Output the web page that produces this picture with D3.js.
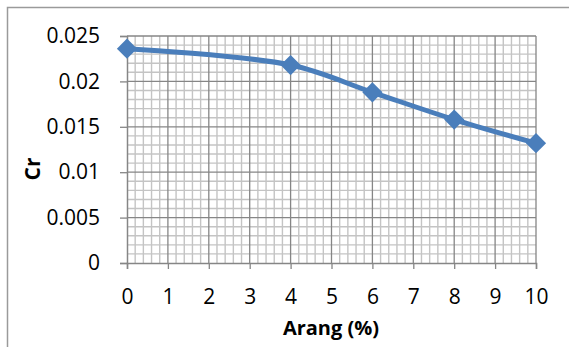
<!DOCTYPE html>
<html>
<head>
<meta charset="utf-8">
<script src="https://cdn.jsdelivr.net/npm/d3@7"></script>
<style>
  body { margin: 0; background: #fff; }
  text { font-family: "Open Sans", "Liberation Sans", sans-serif; fill: #000; }
</style>
</head>
<body>
<div id="chart"></div>
<script>
// Data
const arang = [0, 4, 6, 8, 10];
const crValues = [0.0236, 0.0218, 0.0188, 0.0158, 0.0132];
const xTicks = [0, 1, 2, 3, 4, 5, 6, 7, 8, 9, 10];
const yTicks = [0, 0.005, 0.01, 0.015, 0.02, 0.025];
const yTickLabels = ["0", "0.005", "0.01", "0.015", "0.02", "0.025"];

const width = 569, height = 347;
const plot = { left: 127, right: 536, top: 36, bottom: 263 };

const svg = d3.select("#chart").append("svg")
  .attr("width", width)
  .attr("height", height);

// Outer chart border
svg.append("rect")
  .attr("x", 7.5).attr("y", 7.5)
  .attr("width", width).attr("height", height)
  .attr("fill", "none")
  .attr("stroke", "#9a9a9a")
  .attr("stroke-width", 1.5);

const x = d3.scaleLinear().domain([0, 10]).range([plot.left, plot.right]);
const y = d3.scaleLinear().domain([0, 0.025]).range([plot.bottom, plot.top]);

// Minor gridlines
const g = svg.append("g");
g.selectAll(".minor-x")
  .data(d3.range(0, 50).filter(i => i % 5 !== 0).map(i => i / 5))
  .enter().append("line")
  .attr("x1", d => x(d)).attr("x2", d => x(d))
  .attr("y1", plot.top).attr("y2", plot.bottom)
  .attr("stroke", "#c4c4c4").attr("stroke-width", 1.4);
g.selectAll(".minor-y")
  .data(d3.range(0, 25).filter(i => i % 5 !== 0).map(i => i / 1000))
  .enter().append("line")
  .attr("x1", plot.left).attr("x2", plot.right)
  .attr("y1", d => y(d)).attr("y2", d => y(d))
  .attr("stroke", "#c4c4c4").attr("stroke-width", 1.4);

// Major gridlines
g.selectAll(".major-x")
  .data(xTicks.slice(1))
  .enter().append("line")
  .attr("x1", d => x(d)).attr("x2", d => x(d))
  .attr("y1", plot.top).attr("y2", plot.bottom)
  .attr("stroke", "#868686").attr("stroke-width", 1.3);
g.selectAll(".major-y")
  .data(yTicks.slice(1))
  .enter().append("line")
  .attr("x1", plot.left).attr("x2", plot.right)
  .attr("y1", d => y(d)).attr("y2", d => y(d))
  .attr("stroke", "#868686").attr("stroke-width", 1.3);

// Axes
const xAxis = svg.append("g")
  .attr("transform", `translate(0,${plot.bottom})`)
  .call(d3.axisBottom(x).tickValues(xTicks).tickSize(6).tickPadding(20).tickFormat(d3.format("d")));
const yAxis = svg.append("g")
  .attr("transform", `translate(${plot.left},0)`)
  .call(d3.axisLeft(y).tickValues(yTicks).tickSize(7).tickPadding(20)
    .tickFormat((d, i) => yTickLabels[i]));

[xAxis, yAxis].forEach(a => {
  a.select(".domain").attr("stroke", "#868686").attr("stroke-width", 1.5);
  a.selectAll(".tick line").attr("stroke", "#868686").attr("stroke-width", 1.3);
  a.selectAll(".tick text")
    .style("font-family", "'Open Sans', 'Liberation Sans', sans-serif")
    .style("font-size", "21px")
    .attr("fill", "#000");
});

// Axis titles
svg.append("text")
  .attr("x", 331).attr("y", 335)
  .attr("text-anchor", "middle")
  .style("font-size", "20px").style("font-weight", "bold")
  .text("Arang (%)");
svg.append("text")
  .attr("transform", "translate(40,169) rotate(-90)")
  .attr("text-anchor", "middle")
  .style("font-size", "21px").style("font-weight", "bold")
  .text("Cr");

// Series line
const points = arang.map((a, i) => [a, crValues[i]]);
svg.append("path")
  .datum(points)
  .attr("fill", "none")
  .attr("stroke", "#4a7ebb")
  .attr("stroke-width", 5)
  .attr("stroke-linejoin", "round")
  .attr("d", d3.line().x(d => x(d[0])).y(d => y(d[1])).curve(d3.curveCatmullRom.alpha(0.5)));

// Diamond markers
svg.selectAll(".marker")
  .data(points)
  .enter().append("path")
  .attr("transform", d => `translate(${x(d[0])},${y(d[1])})`)
  .attr("d", d3.symbol().type(d3.symbolDiamond2).size(260))
  .attr("fill", "#4a7ebb");
</script>
</body>
</html>
